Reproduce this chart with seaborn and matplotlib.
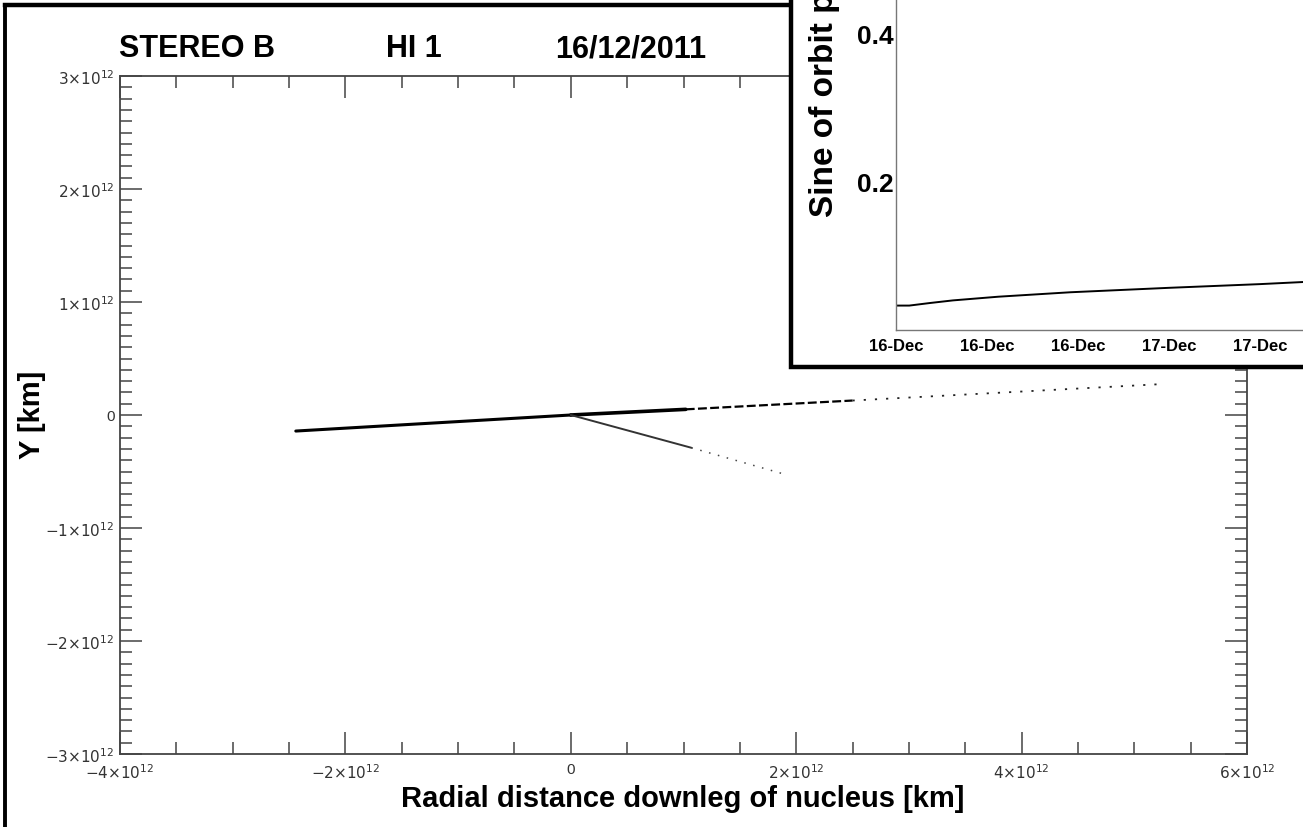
import numpy as np
import pandas as pd
import matplotlib
matplotlib.use("Agg")
import matplotlib.pyplot as plt
import matplotlib.dates as mdates
from matplotlib.patches import Rectangle
from matplotlib.lines import Line2D
from matplotlib.ticker import MultipleLocator, FuncFormatter
import seaborn as sns

# ---- synchrone / syndyne branches in the comet frame (units of 1e12 km) ----
upper_x = [-2.44, 0.0, 1.02, 2.5, 5.27]
upper_y = [-0.142, 0.0, 0.050, 0.128, 0.275]
lower_x = [0.0, 1.07, 1.90]
lower_y = [0.0, -0.29, -0.525]

# ---- inset: sine of orbit plane angle vs time ----
inset_time = ["2011-12-16 00:00", "2011-12-16 01:10", "2011-12-16 03:00",
              "2011-12-16 05:00", "2011-12-16 09:00", "2011-12-16 15:20",
              "2011-12-17 00:00", "2011-12-17 08:00", "2011-12-17 12:00"]
inset_sine = [0.033, 0.033, 0.0365, 0.040, 0.045, 0.051, 0.057, 0.062, 0.065]

title_parts = ["STEREO B", "HI 1", "16/12/2011"]

sns.set_theme(style="white")
plt.rcParams["font.family"] = ["Liberation Sans", "DejaVu Sans"]
plt.rcParams["mathtext.fontset"] = "dejavusans"
plt.rcParams["text.color"] = "black"

W, H = 1303, 828
fig = plt.figure(figsize=(W / 100, H / 100), dpi=100)
fig.patch.set_facecolor("white")

def fx(px):
    return px / W

def fy(py):
    return 1 - py / H

# ---------------- main panel ----------------
ax = fig.add_axes([fx(120), fy(755), fx(1247) - fx(120), fy(77) - fy(755)])
ax.set_facecolor("white")

E = 1e12
# segment styles for the upper branch (dense near nucleus, sparse far out)
up_styles = [
    dict(lw=2.2, ls="-", color="black"),
    dict(lw=2.6, ls="-", color="black"),
    dict(lw=1.6, ls=(0, (4, 1.5)), color="black"),
    dict(lw=1.3, ls=(0, (1.2, 5)), color="#222222"),
]
for i, st in enumerate(up_styles):
    sns.lineplot(x=np.array(upper_x[i:i + 2]) * E, y=np.array(upper_y[i:i + 2]) * E,
                 ax=ax, sort=False, estimator=None, color=st["color"],
                 linewidth=st["lw"], linestyle=st["ls"])

lo_styles = [
    dict(lw=1.4, ls="-", color="#333333"),
    dict(lw=1.1, ls=(0, (1.0, 5)), color="#444444"),
]
for i, st in enumerate(lo_styles):
    sns.lineplot(x=np.array(lower_x[i:i + 2]) * E, y=np.array(lower_y[i:i + 2]) * E,
                 ax=ax, sort=False, estimator=None, color=st["color"],
                 linewidth=st["lw"], linestyle=st["ls"])

ax.set_xlim(-4 * E, 6 * E)
ax.set_ylim(-3 * E, 3 * E)
ax.xaxis.set_major_locator(MultipleLocator(2 * E))
ax.xaxis.set_minor_locator(MultipleLocator(0.5 * E))
ax.yaxis.set_major_locator(MultipleLocator(1 * E))
ax.yaxis.set_minor_locator(MultipleLocator(0.1 * E))

def sci_fmt(v, pos):
    m = int(round(v / E))
    if m == 0:
        return "0"
    return r"$%d{\times}10^{12}$" % m

ax.xaxis.set_major_formatter(FuncFormatter(sci_fmt))
ax.yaxis.set_major_formatter(FuncFormatter(sci_fmt))
spine_col = "#444444"
for s in ax.spines.values():
    s.set_color(spine_col)
    s.set_linewidth(1.3)
ax.tick_params(which="both", direction="in", top=True, right=True,
               bottom=True, left=True, color=spine_col, width=1.1,
               labelsize=11, labelcolor="#333333")
ax.tick_params(which="major", length=16)
ax.tick_params(which="minor", length=8.5)
ax.tick_params(axis="x", pad=6)
ax.tick_params(axis="y", pad=4)
ax.set_xlabel("")
ax.set_ylabel("")
ax.grid(False)

fig.text(fx(683), fy(799), "Radial distance downleg of nucleus [km]",
         ha="center", va="center", fontsize=21, fontweight="bold", color="black")
fig.text(fx(32), fy(415), "Y [km]", rotation=90, ha="center", va="center",
         fontsize=21, fontweight="bold", color="black")

for txt, cx in zip(title_parts, [197, 414, 631]):
    fig.text(fx(cx), fy(57), txt, ha="center", va="baseline",
             fontsize=22, fontweight="bold", color="black")

# outer frame of the main panel
fig.add_artist(Line2D([fx(5), fx(5)], [fy(6), fy(H + 10)], transform=fig.transFigure,
                      color="black", lw=2.8, zorder=3))
fig.add_artist(Line2D([fx(5), fx(791)], [fy(6), fy(6)], transform=fig.transFigure,
                      color="black", lw=3.2, zorder=3, solid_capstyle="projecting"))

# ---------------- inset panel ----------------
box = Rectangle((fx(791), fy(368)), 0.6, 0.6, transform=fig.transFigure,
                facecolor="white", edgecolor="black", lw=3.2, zorder=4)
fig.add_artist(box)

t0 = pd.Timestamp("2011-12-16 00:00")
t1 = pd.Timestamp("2011-12-17 12:00")
iax = fig.add_axes([fx(896), fy(331), fx(36 / 8 * 91), 0.5 / 0.2 * 148 / H])
iax.set_zorder(5)
iax.set_facecolor("none")
inset_df = pd.DataFrame({"time": pd.to_datetime(inset_time), "sine": inset_sine})
sns.lineplot(data=inset_df, x="time", y="sine", ax=iax, color="black",
             linewidth=1.4, estimator=None, sort=False)
iax.set_xlim(t0, t1)
iax.set_ylim(0, 0.5)
iax.set_yticks([0.2, 0.4])
iax.set_yticklabels(["0.2", "0.4"])
iax.yaxis.set_minor_locator(MultipleLocator(0.05))
iax.xaxis.set_major_locator(mdates.HourLocator(byhour=[0, 8, 16]))
iax.xaxis.set_minor_locator(mdates.HourLocator(interval=2))
iax.xaxis.set_major_formatter(mdates.DateFormatter("%d-%b"))
iax.set_xlabel("")
iax.set_ylabel("")
icol = "#777777"
for side in ["top", "right"]:
    iax.spines[side].set_visible(False)
for side in ["left", "bottom"]:
    iax.spines[side].set_color(icol)
    iax.spines[side].set_linewidth(1.0)
iax.tick_params(which="both", direction="in", color=icol, width=1.0,
                top=False, right=False, labelcolor="black")
iax.tick_params(which="major", length=13)
iax.tick_params(which="minor", length=6.5)
iax.tick_params(axis="x", labelsize=12, pad=6)
iax.tick_params(axis="y", labelsize=19, pad=2)
for lab in iax.get_xticklabels() + iax.get_yticklabels():
    lab.set_fontweight("bold")
iax.grid(False)

fig.text(fx(824), fy(217), "Sine of orbit plane angle", rotation=90,
         ha="center", va="bottom", fontsize=24, fontweight="bold", zorder=6,
         color="black")

fig.savefig("out.png", dpi=100, facecolor="white")
